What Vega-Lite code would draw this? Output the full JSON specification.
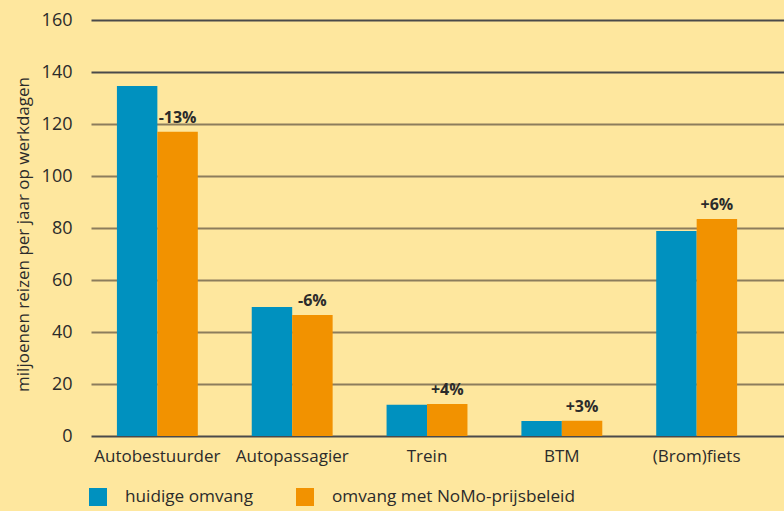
{
  "$schema": "https://vega.github.io/schema/vega-lite/v6.json",
  "width": 693,
  "height": 416,
  "autosize": {"type": "none"},
  "padding": {"left": 91, "top": 20, "right": 0, "bottom": 75},
  "background": "#FEE79E",
  "config": {
    "view": {"stroke": null},
    "font": "Open Sans",
    "axis": {"labelColor": "#2b2b2b", "titleColor": "#2b2b2b"}
  },
  "data": {
    "values": [
      {"cat": "Autobestuurder", "series": "huidige omvang", "value": 134.6, "label": ""},
      {"cat": "Autobestuurder", "series": "omvang met NoMo-prijsbeleid", "value": 117, "label": "-13%"},
      {"cat": "Autopassagier", "series": "huidige omvang", "value": 49.6, "label": ""},
      {"cat": "Autopassagier", "series": "omvang met NoMo-prijsbeleid", "value": 46.5, "label": "-6%"},
      {"cat": "Trein", "series": "huidige omvang", "value": 12, "label": ""},
      {"cat": "Trein", "series": "omvang met NoMo-prijsbeleid", "value": 12.3, "label": "+4%"},
      {"cat": "BTM", "series": "huidige omvang", "value": 5.8, "label": ""},
      {"cat": "BTM", "series": "omvang met NoMo-prijsbeleid", "value": 5.9, "label": "+3%"},
      {"cat": "(Brom)fiets", "series": "huidige omvang", "value": 78.8, "label": ""},
      {"cat": "(Brom)fiets", "series": "omvang met NoMo-prijsbeleid", "value": 83.5, "label": "+6%"}
    ]
  },
  "encoding": {
    "x": {
      "field": "cat", "type": "nominal", "sort": null,
      "scale": {"paddingInner": 0.4, "paddingOuter": 0.27, "align": 0.356},
      "axis": {"title": null, "labelAngle": 0, "labelFontSize": 17, "labelPadding": 12, "ticks": false, "domain": false}
    },
    "xOffset": {"field": "series", "type": "nominal", "sort": null},
    "y": {
      "field": "value", "type": "quantitative",
      "scale": {"domain": [0, 160], "nice": false},
      "axis": {
        "title": "miljoenen reizen per jaar op werkdagen",
        "titleFontSize": 17, "titleFontWeight": "normal",
        "titleX": -68, "titleY": 214, "titleAngle": -90, "titleAlign": "center", "titleBaseline": "middle",
        "values": [0, 20, 40, 60, 80, 100, 120, 140, 160],
        "labelFontSize": 18, "labelPadding": 19, "ticks": false, "domain": false,
        "grid": true, "gridWidth": 2,
        "gridColor": {"condition": {"test": "datum.value >= 140 || datum.value == 0", "value": "#4a4a4a"}, "value": "#8c7d5c"}
      }
    }
  },
  "layer": [
    {
      "mark": {"type": "bar"},
      "encoding": {
        "color": {
          "field": "series", "type": "nominal", "sort": null,
          "scale": {"domain": ["huidige omvang", "omvang met NoMo-prijsbeleid"], "range": ["#0091BF", "#F29200"]},
          "legend": {
            "title": null, "orient": "none", "legendX": -2, "legendY": 468, "direction": "horizontal",
            "symbolType": "square", "symbolSize": 324, "symbolStrokeWidth": 0, "symbolOpacity": 1,
            "labelFontSize": 17.2, "labelColor": "#2b2b2b", "labelOffset": 18, "columnPadding": 43, "labelLimit": 0
          }
        }
      }
    },
    {
      "mark": {"type": "text", "fontWeight": "bold", "fontSize": 16, "color": "#2b2b2b", "baseline": "alphabetic", "dy": -9},
      "encoding": {"text": {"field": "label"}}
    }
  ]
}
